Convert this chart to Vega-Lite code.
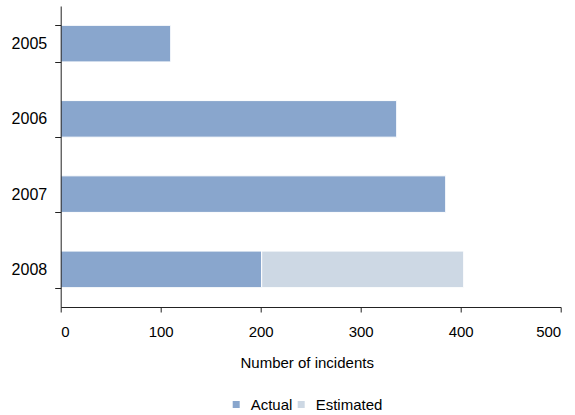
{
  "$schema": "https://vega.github.io/schema/vega-lite/v6.json",
  "width": 500,
  "height": 301,
  "autosize": "none",
  "padding": {"left": 60.7, "top": 6, "right": 14.3, "bottom": 108},
  "background": "white",
  "config": {
    "font": "Liberation Sans",
    "view": {"stroke": null}
  },
  "data": {
    "values": [
      {"year": "2005", "type": "Actual", "order": 1, "incidents": 110},
      {"year": "2006", "type": "Actual", "order": 1, "incidents": 336},
      {"year": "2007", "type": "Actual", "order": 1, "incidents": 385},
      {"year": "2008", "type": "Actual", "order": 1, "incidents": 201},
      {"year": "2008", "type": "Estimated", "order": 2, "incidents": 202}
    ]
  },
  "mark": {"type": "bar", "stroke": "white", "strokeWidth": 1},
  "encoding": {
    "y": {
      "field": "year",
      "type": "nominal",
      "sort": ["2005", "2006", "2007", "2008"],
      "scale": {"paddingInner": 0.514, "paddingOuter": 0.257},
      "axis": {
        "title": null,
        "zindex": 1,
        "tickBand": "extent",
        "domainColor": "#222222",
        "tickColor": "#222222",
        "tickSize": 6,
        "labelFontSize": 16,
        "labelColor": "#000000",
        "labelPadding": 8
      }
    },
    "x": {
      "field": "incidents",
      "type": "quantitative",
      "stack": "zero",
      "scale": {"domain": [0, 500], "nice": false},
      "axis": {
        "title": "Number of incidents",
        "zindex": 1,
        "values": [0, 100, 200, 300, 400, 500],
        "grid": false,
        "domainColor": "#222222",
        "tickColor": "#222222",
        "tickSize": 5,
        "labelFontSize": 15,
        "labelColor": "#000000",
        "labelPadding": 12,
        "titleFontSize": 15,
        "titleFontWeight": "normal",
        "titleColor": "#000000",
        "titlePadding": 16,
        "titleX": 246
      }
    },
    "color": {
      "field": "type",
      "type": "nominal",
      "scale": {"domain": ["Actual", "Estimated"], "range": ["#89A6CD", "#CDD8E4"]},
      "legend": {
        "title": null,
        "orient": "none",
        "direction": "horizontal",
        "gridAlign": "none",
        "legendX": 168,
        "legendY": 391,
        "symbolType": "square",
        "symbolSize": 49,
        "symbolStrokeWidth": 0,
        "labelFontSize": 15,
        "labelColor": "#000000",
        "labelOffset": 7,
        "columnPadding": 1
      }
    },
    "order": {"field": "order", "type": "quantitative"}
  }
}
